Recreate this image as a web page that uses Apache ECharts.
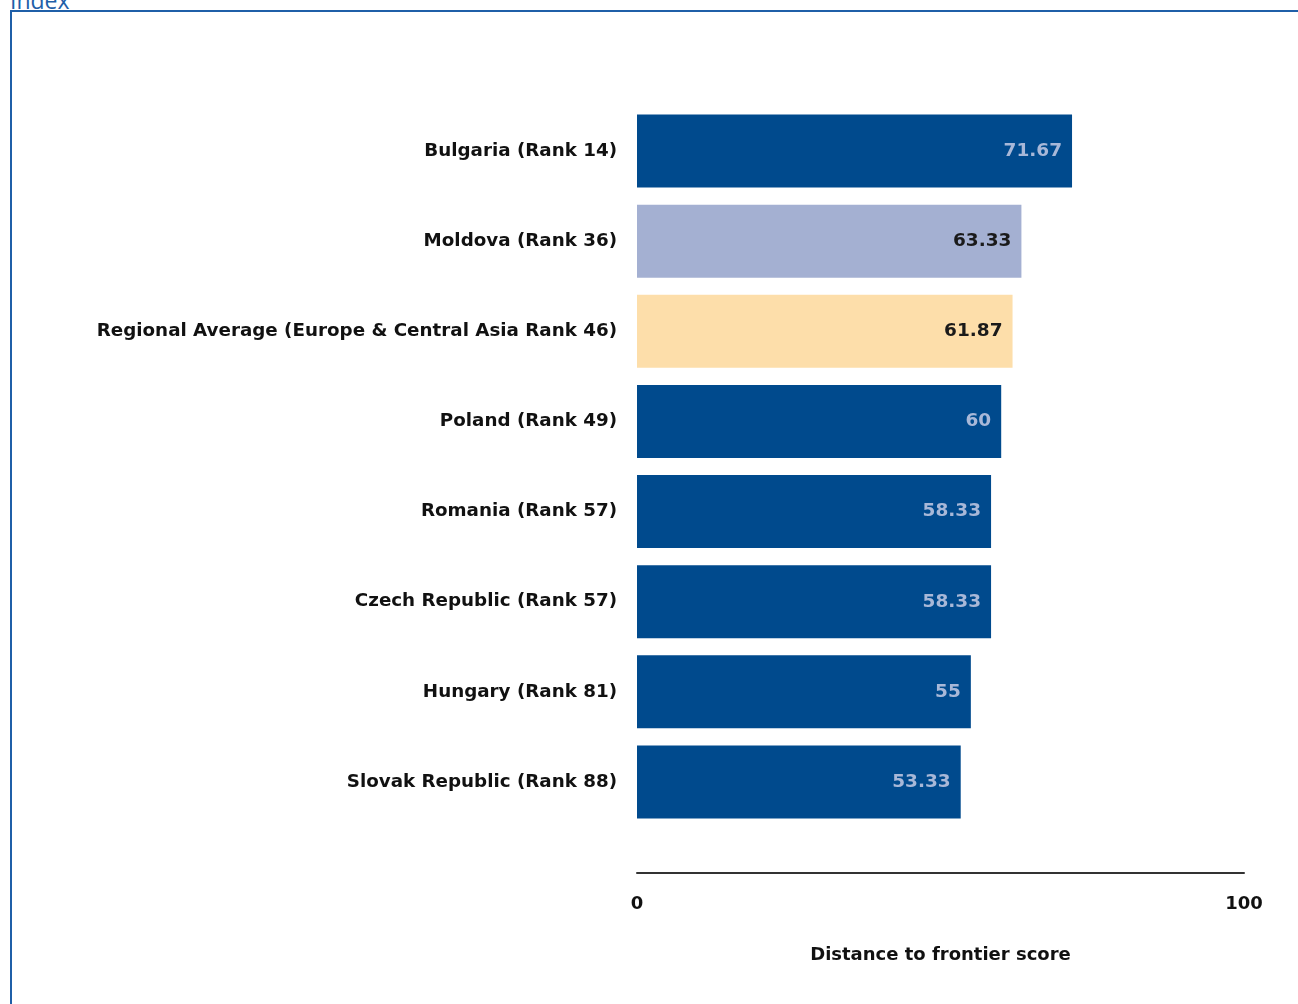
<!DOCTYPE html>
<html><head><meta charset="utf-8">
<style>
html,body{margin:0;padding:0;background:#fff;width:1298px;height:1004px;overflow:hidden;}
#frame{position:absolute;left:10px;top:10px;width:1300px;height:1010px;border-left:2px solid #1f5fa8;border-top:2px solid #1f5fa8;}
#idx{position:absolute;left:10px;top:-16px;font-family:"Open Sans",sans-serif;font-size:23px;color:#1f5fa8;}
#chart{position:absolute;left:0;top:0;width:1298px;height:1004px;}
</style>
<script src="https://cdn.jsdelivr.net/npm/echarts@6/dist/echarts.min.js"></script>
</head><body>
<div id="idx">Index</div>
<div id="frame"></div>
<div id="chart"></div>
<script>
const categories = [
  "Bulgaria (Rank 14)",
  "Moldova (Rank 36)",
  "Regional Average (Europe & Central Asia Rank 46)",
  "Poland (Rank 49)",
  "Romania (Rank 57)",
  "Czech Republic (Rank 57)",
  "Hungary (Rank 81)",
  "Slovak Republic (Rank 88)"
];
const values = [71.67, 63.33, 61.87, 60, 58.33, 58.33, 55, 53.33];
const barColors = ["#004a8d", "#a4b0d2", "#fddeaa", "#004a8d", "#004a8d", "#004a8d", "#004a8d", "#004a8d"];
const labelColors = ["#a8b8d8", "#1a1a1a", "#1a1a1a", "#a8b8d8", "#a8b8d8", "#a8b8d8", "#a8b8d8", "#a8b8d8"];
const xTicks = [0, 100];
const axisName = "Distance to frontier score";

const font = "Tahoma, 'DejaVu Sans', sans-serif";
const chart = echarts.init(document.getElementById('chart'), null, {renderer:'canvas'});
chart.setOption({
  animation:false,
  grid:{left:637, right:54, top:106, bottom:177, containLabel:false},
  xAxis:{
    type:'value', min:xTicks[0], max:xTicks[1], interval:100,
    offset:46,
    axisLine:{show:true, lineStyle:{color:'#333', width:2}},
    axisTick:{show:false}, splitLine:{show:false},
    axisLabel:{color:'#111', fontFamily:font, fontWeight:'bold', fontSize:18, margin:22},
    name:axisName, nameLocation:'middle', nameGap:73,
    nameTextStyle:{color:'#111', fontFamily:font, fontWeight:'bold', fontSize:18}
  },
  yAxis:{
    type:'category', data:categories, inverse:true,
    axisLine:{show:false}, axisTick:{show:false},
    axisLabel:{color:'#111', fontFamily:font, fontWeight:'bold', fontSize:18.3, margin:20}
  },
  series:[{
    type:'bar',
    barWidth:73,
    data: values.map((v,i)=>({value:v, itemStyle:{color:barColors[i]},
      label:{color:labelColors[i]}})),
    label:{show:true, position:'insideRight', distance:10,
      fontFamily:font, fontWeight:'bold', fontSize:18.5,
      formatter:(p)=>String(p.value)}
  }]
});
</script>
</body></html>
